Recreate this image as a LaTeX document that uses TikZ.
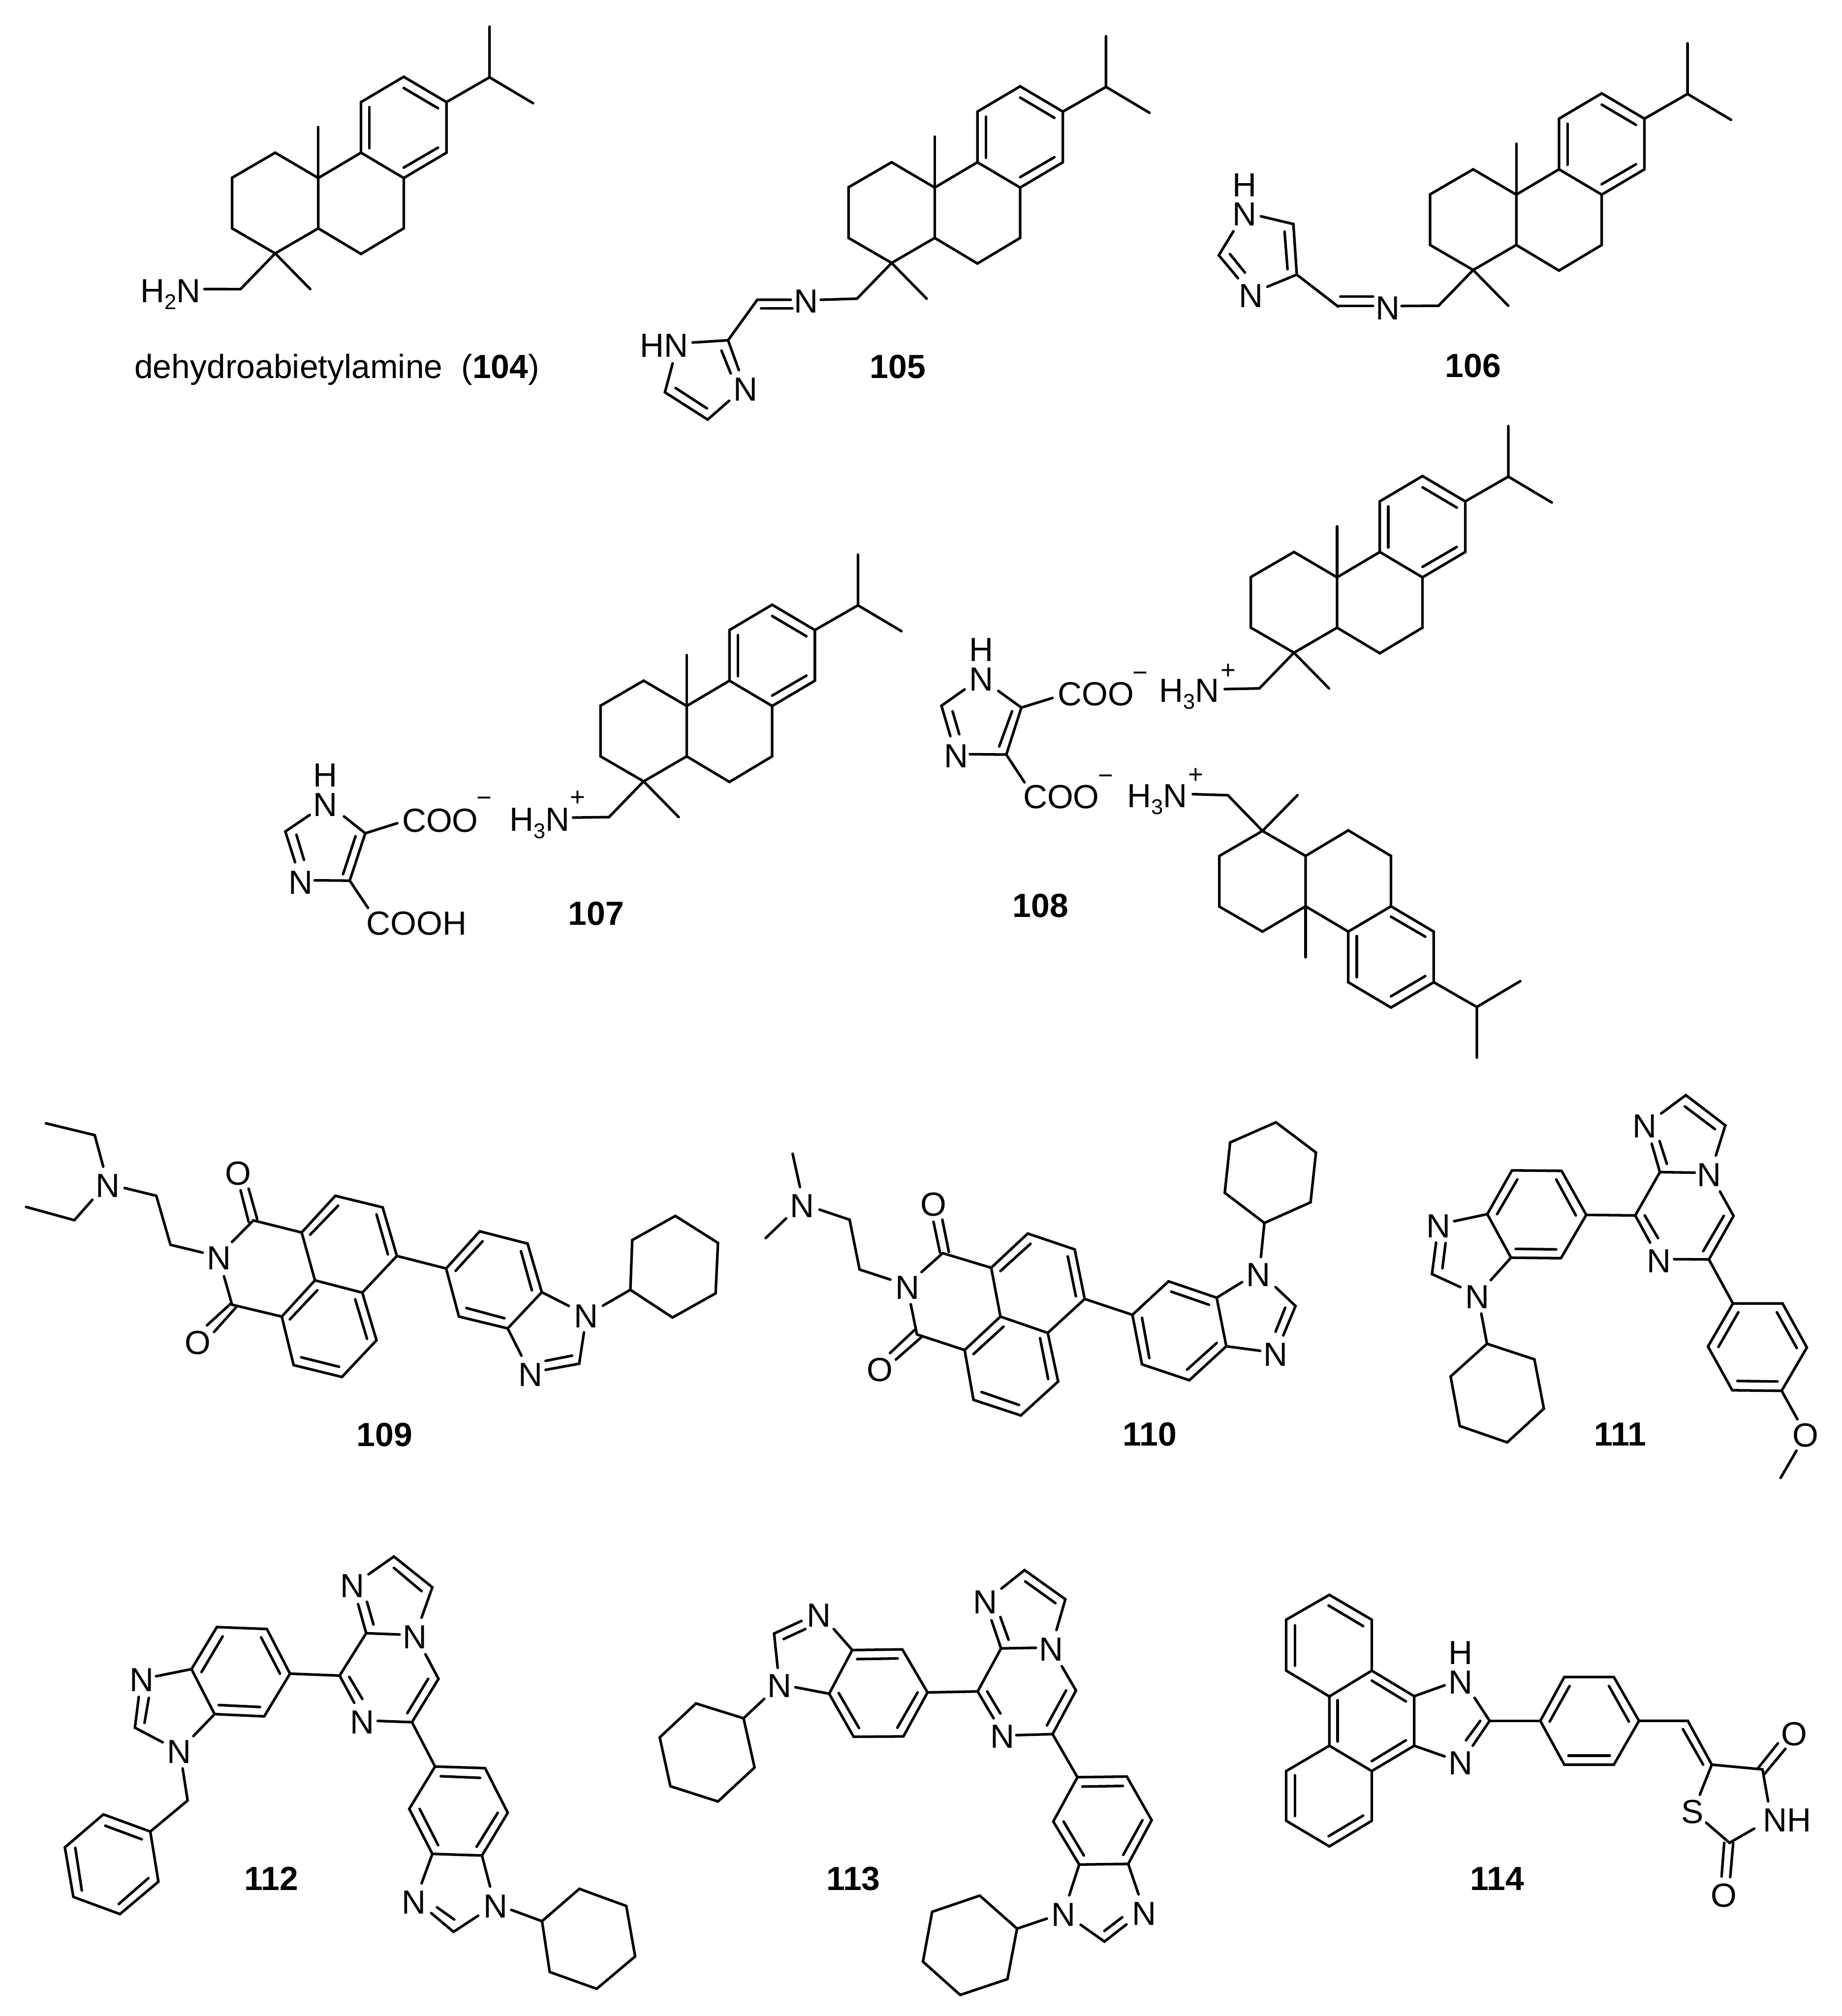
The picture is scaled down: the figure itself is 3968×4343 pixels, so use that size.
\documentclass[tikz,border=0pt]{standalone}
\usepackage{fontspec}
\setmainfont{Liberation Sans}
\tikzset{
  bd/.style={line width=1.4pt,line cap=round,line join=miter,black},
  lbl/.style={inner sep=0pt,outer sep=0pt,anchor=base,font=\fontsize{18}{20}\selectfont,text=black},
  lbe/.style={lbl,anchor=base east},
  lbw/.style={lbl,anchor=base west},
  chg/.style={inner sep=0pt,outer sep=0pt,anchor=center,font=\fontsize{14}{16}\selectfont,text=black},
  chm/.style={chg,yshift=-1.6pt},
  num/.style={lbl,font=\fontsize{18}{20}\selectfont\bfseries}
}
\newcommand{\dn}[1]{\raisebox{-3.8pt}{\fontsize{11.5}{12}\selectfont #1}}
\newcommand{\setcrop}[4]{\pgfmathsetmacro\sx{#3/1568*0.25}\pgfmathsetmacro\sy{#4/1568*0.25}\pgfmathsetmacro\ox{#1*0.25}\pgfmathsetmacro\oy{-#2*0.25}}
\newcommand{\bo}[1]{\draw[bd] #1;}
% skeleton: #1,#2 = full-frame position of the ring junction, #3 = 1 normal, -1 flipped, #4 = name of chain end
\newcommand{\abiet}[4]{%
  \pgfmathsetmacro\sya{-#3*0.15147}\pgfmathsetmacro\jx{#1*0.25}\pgfmathsetmacro\jy{-#2*0.25}%
  \begin{scope}[shift={(\jx pt,\jy pt)},x=0.20727pt,y=\sya pt,shift={(-586,-633)}]
    \bo{(1031,95)--(1031,275)--(919,363)}
    \bo{(1031,275)--(1144,367)}
    \bo{(808,273)--(919,363)--(919,543)--(808,633)--(697,543)--(697,363)--cycle}
    \bo{(808,313)--(897,385)}
    \bo{(719,381)--(719,527)}
    \bo{(897,525)--(808,596)}
    \bo{(697,543)--(586,633)--(586,812)--(697,903)--(808,812)--(808,633)}
    \bo{(586,452)--(586,633)}
    \bo{(586,633)--(474,543)--(362,632)--(362,812)--(474,901)--(586,812)}
    \bo{(474,901)--(565,1028)}
    \coordinate (#4) at (384,1028);
    \bo{(474,901)--(#4)}
  \end{scope}}
\begin{document}
\begin{tikzpicture}[x=0.25pt,y=-0.25pt]
\useasboundingbox[fill=white] (0,0) rectangle (3968,4343);

% 104
\abiet{685.8}{383.5}{1}{ceA}
\abiet{2013.9}{404.1}{1}{ceB}
\abiet{3266.9}{419.3}{1}{ceC}
\abiet{1479.6}{1520.9}{1}{ceD}
\abiet{2880.8}{1243.7}{1}{ceE}
\abiet{2812.9}{1952.4}{-1}{ceF}

\setcrop{200}{0}{1300}{950}
\begin{scope}[shift={(\ox pt,\oy pt)},x=\sx pt,y=-\sy pt]
  \node[lbe] (a1) at (280,1075) {H\dn{2}N};
  \bo{(ceA)--(290,1028)}
  \node[lbw] (t104) at (108,1345) {dehydroabietylamine\ \ (\textbf{104})};
\end{scope}

% 105
\setcrop{1300}{0}{1300}{950}
\begin{scope}[shift={(\ox pt,\oy pt)},x=\sx pt,y=-\sy pt]
  \node[lbl] (b1) at (527,1112) {N};
  \node[lbe] (b2) at (220,1270) {HN};
  \node[lbl] (b3) at (370,1425) {N};
  \node[num] (t105) at (765,1345) {105};
  \bo{(ceB)--(565,1066)}
  \bo{(487,1066)--(400,1066)--(324,1210)--(232,1218)}
  \bo{(491,1097)--(410,1097)}
  \bo{(324,1210)--(352,1316)}
  \bo{(307,1247)--(331,1328)}
  \bo{(327,1425)--(271,1492)--(160,1395)--(180,1292)}
  \bo{(269,1452)--(188,1380)}
\end{scope}

% 106
\setcrop{2650}{0}{1300}{950}
\begin{scope}[shift={(\ox pt,\oy pt)},x=\sx pt,y=-\sy pt]
  \node[lbl] (c1) at (410,1136) {N};
  \node[num] (t106) at (632,1342) {106};
  \bo{(ceC)--(446,1088)}
  \bo{(372,1055)--(287,1055)}
  \bo{(372,1088)--(282,1088)}
\end{scope}
\setcrop{2500}{350}{522.67}{522.67}
\begin{scope}[shift={(\ox pt,\oy pt)},x=\sx pt,y=-\sy pt]
  \node[lbl] (c2) at (545,222) {H};
  \node[lbl] (c3) at (545,410) {N};
  \node[lbl] (c4) at (585,935) {N};
  \bo{(650,348)--(860,398)--(882,725)--(692,803)}
  \bo{(803,447)--(822,690)}
  \bo{(882,725)--(1150,932)}
  \bo{(472,445)--(378,600)--(502,748)}
  \bo{(450,592)--(547,712)}
\end{scope}

% 107
\setcrop{500}{1100}{1500}{1000}
\begin{scope}[shift={(\ox pt,\oy pt)},x=\sx pt,y=-\sy pt]
  \node[lbl] (d1) at (210,933) {H};
  \node[lbl] (d2) at (210,1033) {N};
  \node[lbl] (d3) at (155,1295) {N};
  \node[lbw] (d4) at (383,1085) {COO};
  \node[chm] (d5) at (568,973) {−};
  \node[lbw] (d6) at (303,1434) {COOH};
  \node[lbe] (d7) at (760,1083) {H\dn{3}N};
  \node[chg] (d8) at (778,972) {+};
  \node[num] (t107) at (820,1400) {107};
  \bo{(252,1033)--(300,1090)--(372,1056)}
  \bo{(300,1090)--(265,1250)--(186,1249)}
  \bo{(278,1100)--(250,1228)}
  \bo{(265,1250)--(306,1342)}
  \bo{(175,1028)--(120,1084)--(142,1188)}
  \bo{(145,1095)--(162,1180)}
  \bo{(ceD)--(768,1037)}
\end{scope}

% 108
\setcrop{1950}{1050}{1500}{1250}
\begin{scope}[shift={(\ox pt,\oy pt)},x=\sx pt,y=-\sy pt]
  \node[lbl] (e1) at (172,470) {H};
  \node[lbl] (e2) at (172,550) {N};
  \node[lbl] (e3) at (115,757) {N};
  \node[lbw] (e4) at (344,590) {COO};
  \node[chm] (e5) at (530,503) {−};
  \node[lbw] (e6) at (266,868) {COO};
  \node[chm] (e7) at (452,782) {−};
  \node[lbe] (e8) at (708,580) {H\dn{3}N};
  \node[chg] (e9) at (728,497) {+};
  \node[lbe] (e10) at (636,865) {H\dn{3}N};
  \node[chg] (e11) at (655,780) {+};
  \node[num] (t108) at (305,1162) {108};
  \bo{(210,550)--(262,595)--(332,569)}
  \bo{(262,595)--(228,722)--(146,721)}
  \bo{(241,605)--(212,700)}
  \bo{(228,722)--(269,797)}
  \bo{(134,546)--(82,590)--(102,672)}
  \bo{(107,605)--(122,667)}
  \bo{(ceE)--(720,545)}
  \bo{(ceF)--(648,829)}
\end{scope}

% 109
\setcrop{0}{2350}{1600}{800}
\begin{scope}[shift={(\ox pt,\oy pt)},x=\sx pt,y=-\sy pt]
  \node[lbl] (f1) at (228,450) {N};
  \node[lbl] (f2) at (462,755) {N};
  \node[lbl] (f3) at (503,398) {O};
  \node[lbl] (f4) at (418,1112) {O};
  \node[lbl] (f5) at (1238,1000) {N};
  \node[lbl] (f6) at (1120,1247) {N};
  \node[num] (t109) at (812,1500) {109};
  \bo{(97,137)--(200,187)--(218,320)}
  \bo{(55,490)--(157,546)--(195,460)}
  \bo{(263,410)--(330,443)--(360,650)--(428,683)}
  \bo{(490,638)--(535,547)--(637,598)--(665,800)--(595,953)--(490,903)--(473,783)}
  \bo{(612,965)--(670,842)}
  \bo{(543,541)--(525,413)}
  \bo{(525,553)--(508,420)}
  \bo{(498,915)--(452,1018)}
  \bo{(488,897)--(437,990)}
  \bo{(637,598)--(708,443)--(808,492)--(838,697)--(765,852)--(665,800)}
  \bo{(655,607)--(714,485)}
  \bo{(795,522)--(819,690)}
  \bo{(765,852)--(795,1053)--(722,1208)--(620,1158)--(595,953)}
  \bo{(750,880)--(775,1047)}
  \bo{(716,1165)--(636,1125)}
  \bo{(838,697)--(942,750)}
  \bo{(942,750)--(1013,593)--(1114,645)--(1144,850)--(1072,1003)--(969,953)--cycle}
  \bo{(962,760)--(1019,635)}
  \bo{(1100,677)--(1123,842)}
  \bo{(1065,960)--(985,917)}
  \bo{(1144,850)--(1201,908)}
  \bo{(1233,1020)--(1223,1152)--(1152,1178)}
  \bo{(1208,1118)--(1152,1140)}
  \bo{(1072,1003)--(1101,1118)}
  \bo{(1273,907)--(1331,840)--(1335,630)--(1426,528)--(1516,642)--(1511,855)--(1420,957)--(1331,840)}
\end{scope}

% 110
\setcrop{1600}{2350}{1300}{850}
\begin{scope}[shift={(\ox pt,\oy pt)},x=\sx pt,y=-\sy pt]
  \node[lbl] (g1) at (155,503) {N};
  \node[lbl] (g2) at (428,827) {N};
  \node[lbl] (g3) at (496,497) {O};
  \node[lbl] (g4) at (357,1155) {O};
  \node[lbl] (g5) at (1340,776) {N};
  \node[lbl] (g6) at (1385,1093) {N};
  \node[num] (t110) at (1058,1410) {110};
  \bo{(130,250)--(149,382)}
  \bo{(60,585)--(113,507)}
  \bo{(200,472)--(278,512)--(304,710)--(384,750)}
  \bo{(465,720)--(520,645)--(646,703)--(670,897)--(577,1030)--(453,968)--(437,848)}
  \bo{(496,520)--(513,643)}
  \bo{(519,512)--(536,640)}
  \bo{(464,980)--(398,1068)}
  \bo{(447,950)--(383,1042)}
  \bo{(646,703)--(741,567)--(863,630)--(889,827)--(793,962)--(670,897)}
  \bo{(670,716)--(748,608)}
  \bo{(845,658)--(866,816)}
  \bo{(793,962)--(820,1155)--(723,1290)--(600,1228)--(577,1030)}
  \bo{(600,1046)--(678,937)}
  \bo{(773,983)--(794,1145)}
  \bo{(718,1248)--(621,1197)}
  \bo{(889,827)--(1013,890)}
  \bo{(1013,890)--(1107,757)--(1232,822)--(1257,1015)--(1161,1150)--(1038,1087)--cycle}
  \bo{(1114,798)--(1212,850)}
  \bo{(1038,902)--(1057,1062)}
  \bo{(1155,1108)--(1232,1002)}
  \bo{(1232,822)--(1298,760)}
  \bo{(1385,780)--(1437,855)--(1405,972)}
  \bo{(1410,862)--(1385,957)}
  \bo{(1257,1015)--(1345,1033)}
  \bo{(1347,660)--(1356,525)--(1253,405)--(1267,205)--(1386,125)--(1490,245)--(1476,443)--(1356,525)}
\end{scope}

% 111
\setcrop{2900}{2350}{1068}{850}
\begin{scope}[shift={(\ox pt,\oy pt)},x=\sx pt,y=-\sy pt]
  \node[lbl] (h1) at (945,187) {N};
  \node[lbl] (h2) at (1148,380) {N};
  \node[lbl] (h3) at (990,723) {N};
  \node[lbl] (h4) at (293,583) {N};
  \node[lbl] (h5) at (415,865) {N};
  \node[lbl] (h6) at (1453,1415) {O};
  \node[num] (t111) at (868,1410) {111};
  \bo{(997,90)--(1075,17)--(1200,137)--(1170,257)}
  \bo{(1072,62)--(1167,152)}
  \bo{(967,210)--(993,323)--(1103,325)}
  \bo{(992,200)--(1015,290)}
  \bo{(993,323)--(915,495)--(962,603)}
  \bo{(945,495)--(987,585)}
  \bo{(1038,669)--(1148,670)--(1226,497)--(1183,400)}
  \bo{(1130,637)--(1195,497)}
  \bo{(915,495)--(760,493)}
  \bo{(760,493)--(682,318)--(525,316)--(447,490)--(522,663)--(680,665)--cycle}
  \bo{(727,495)--(665,352)}
  \bo{(542,352)--(478,490)}
  \bo{(537,628)--(665,630)}
  \bo{(447,490)--(342,518)}
  \bo{(285,603)--(272,728)--(362,780)}
  \bo{(315,605)--(305,705)}
  \bo{(522,663)--(458,752)}
  \bo{(428,885)--(446,1005)--(331,1135)--(360,1332)--(510,1397)--(626,1263)--(596,1067)--(446,1005)}
  \bo{(1148,670)--(1224,845)}
  \bo{(1224,845)--(1381,845)--(1458,1020)--(1378,1192)--(1222,1190)--(1145,1016)--cycle}
  \bo{(1363,880)--(1426,1022)}
  \bo{(1365,1155)--(1238,1153)}
  \bo{(1178,1018)--(1241,880)}
  \bo{(1378,1192)--(1428,1305)}
  \bo{(1425,1430)--(1375,1538)}
\end{scope}

% 112
\setcrop{100}{3250}{1300}{1093}
\begin{scope}[shift={(\ox pt,\oy pt)},x=\sx pt,y=-\sy pt]
  \node[lbl] (i1) at (795,275) {N};
  \node[lbl] (i2) at (958,432) {N};
  \node[lbl] (i3) at (821,695) {N};
  \node[lbl] (i4) at (248,565) {N};
  \node[lbl] (i5) at (345,787) {N};
  \node[lbl] (i6) at (955,1253) {N};
  \node[lbl] (i7) at (1167,1265) {N};
  \node[num] (t112) at (585,1180) {112};
  \bo{(837,203)--(903,148)--(1003,243)--(975,337)}
  \bo{(903,183)--(975,255)}
  \bo{(810,295)--(831,385)--(918,389)}
  \bo{(833,288)--(850,358)}
  \bo{(831,385)--(762,516)--(800,600)}
  \bo{(787,520)--(821,588)}
  \bo{(861,656)--(950,660)--(1019,526)--(985,450)}
  \bo{(938,632)--(992,526)}
  \bo{(762,516)--(633,510)}
  \bo{(633,510)--(573,372)--(443,366)--(377,496)--(437,635)--(566,642)--cycle}
  \bo{(607,510)--(558,398)}
  \bo{(458,395)--(403,505)}
  \bo{(448,607)--(555,613)}
  \bo{(377,496)--(285,518)}
  \bo{(240,582)--(230,677)--(302,722)}
  \bo{(266,585)--(255,662)}
  \bo{(437,635)--(382,703)}
  \bo{(354,803)--(367,902)--(270,998)}
  \bo{(270,998)--(148,945)--(48,1047)--(70,1200)--(191,1253)--(291,1153)--cycle}
  \bo{(248,1022)--(153,980)}
  \bo{(75,1048)--(92,1180)}
  \bo{(188,1222)--(265,1142)}
  \bo{(950,660)--(1010,797)}
  \bo{(1010,797)--(1140,802)--(1199,940)--(1132,1072)--(1003,1067)--(943,928)--cycle}
  \bo{(1127,832)--(1025,827)}
  \bo{(1173,940)--(1118,1045)}
  \bo{(1018,1040)--(970,928)}
  \bo{(1003,1067)--(975,1158)}
  \bo{(1000,1250)--(1058,1308)--(1122,1258)}
  \bo{(1015,1232)--(1060,1270)}
  \bo{(1132,1072)--(1153,1168)}
  \bo{(1208,1240)--(1288,1275)--(1385,1175)--(1507,1228)--(1530,1384)--(1430,1484)--(1308,1432)--(1288,1275)}
\end{scope}

% 113
\setcrop{1400}{3250}{1200}{1093}
\begin{scope}[shift={(\ox pt,\oy pt)},x=\sx pt,y=-\sy pt]
  \node[lbl] (j1) at (945,325) {N};
  \node[lbl] (j2) at (1130,470) {N};
  \node[lbl] (j3) at (993,740) {N};
  \node[lbl] (j4) at (476,365) {N};
  \node[lbl] (j5) at (365,583) {N};
  \node[lbl] (j6) at (1165,1290) {N};
  \node[lbl] (j7) at (1392,1287) {N};
  \node[num] (t113) at (573,1180) {113};
  \bo{(990,247)--(1055,190)--(1170,280)--(1145,375)}
  \bo{(1057,225)--(1142,292)}
  \bo{(962,345)--(989,432)--(1087,430)}
  \bo{(987,335)--(1010,405)}
  \bo{(989,432)--(923,565)--(968,648)}
  \bo{(950,565)--(987,633)}
  \bo{(1032,700)--(1134,697)--(1200,562)--(1160,487)}
  \bo{(1118,670)--(1172,562)}
  \bo{(923,565)--(782,568)}
  \bo{(782,568)--(711,435)--(570,437)--(505,572)--(574,705)--(714,704)--cycle}
  \bo{(698,463)--(584,465)}
  \bo{(532,570)--(589,678)}
  \bo{(697,677)--(754,568)}
  \bo{(570,437)--(518,372)}
  \bo{(427,347)--(350,386)--(360,492)}
  \bo{(438,372)--(377,403)}
  \bo{(505,572)--(410,552)}
  \bo{(322,588)--(264,648)--(130,602)--(28,707)--(58,858)--(192,905)--(295,800)--(264,648)}
  \bo{(1134,697)--(1204,830)}
  \bo{(1204,830)--(1343,828)--(1413,963)--(1347,1098)--(1209,1100)--(1136,967)--cycle}
  \bo{(1332,857)--(1218,859)}
  \bo{(1387,963)--(1333,1070)}
  \bo{(1222,1072)--(1165,967)}
  \bo{(1209,1100)--(1181,1195)}
  \bo{(1213,1286)--(1280,1338)--(1342,1285)}
  \bo{(1280,1305)--(1330,1263)}
  \bo{(1347,1098)--(1376,1192)}
  \bo{(1118,1267)--(1034,1298)--(929,1196)--(795,1246)--(769,1400)--(874,1503)--(1007,1454)--(1034,1298)}
\end{scope}

% 114
\setcrop{2700}{3350}{1268}{800}
\begin{scope}[shift={(\ox pt,\oy pt)},x=\sx pt,y=-\sy pt]
  \node[lbl] (k1) at (553,462) {H};
  \node[lbl] (k2) at (553,585) {N};
  \node[lbl] (k3) at (553,927) {N};
  \node[lbl] (k4) at (1170,1133) {S};
  \node[lbw] (k5) at (1358,1168) {NH};
  \node[lbl] (k6) at (1442,805) {O};
  \node[lbl] (k7) at (1254,1485) {O};
  \node[num] (t114) at (650,1415) {114};
  \bo{(203,168)--(316,273)--(316,488)--(203,597)--(88,488)--(88,273)--cycle}
  \bo{(201,213)--(293,300)}
  \bo{(111,297)--(111,467)}
  \bo{(316,488)--(429,596)--(429,805)--(316,912)--(203,805)--(203,597)}
  \bo{(316,530)--(407,618)}
  \bo{(407,782)--(316,870)}
  \bo{(225,613)--(225,787)}
  \bo{(203,805)--(88,912)--(88,1122)--(203,1230)--(316,1122)--(316,912)}
  \bo{(111,930)--(111,1102)}
  \bo{(201,1187)--(293,1100)}
  \bo{(429,596)--(510,550)}
  \bo{(590,603)--(630,700)--(585,805)}
  \bo{(605,700)--(567,782)}
  \bo{(429,805)--(510,850)}
  \bo{(630,700)--(765,700)}
  \bo{(765,700)--(829,515)--(961,515)--(1028,700)--(961,885)--(829,885)--cycle}
  \bo{(790,703)--(843,553)}
  \bo{(948,553)--(1001,703)}
  \bo{(840,847)--(950,847)}
  \bo{(1028,700)--(1158,700)--(1222,885)}
  \bo{(1145,735)--(1199,885)}
  \bo{(1222,885)--(1357,905)--(1372,1040)}
  \bo{(1222,885)--(1190,1012)}
  \bo{(1207,1130)--(1269,1215)--(1335,1155)}
  \bo{(1345,900)--(1398,795)}
  \bo{(1362,925)--(1418,818)}
  \bo{(1255,1215)--(1248,1357)}
  \bo{(1279,1215)--(1271,1360)}
\end{scope}
\end{tikzpicture}
\end{document}
